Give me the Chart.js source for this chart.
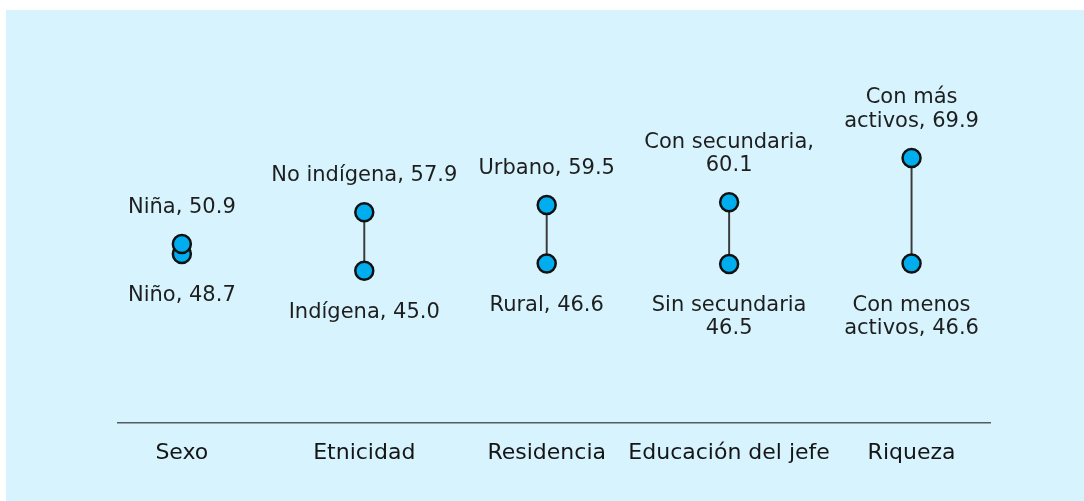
<!DOCTYPE html>
<html>
<head>
<meta charset="utf-8">
<script src="https://cdn.jsdelivr.net/npm/chart.js@4"></script>
<style>
  html, body { margin: 0; padding: 0; background: #ffffff; }
  #panel { position: absolute; left: 6px; top: 10px; width: 1078px; height: 491px; background: #d7f4fe; }
</style>
</head>
<body>
<div id="panel"><canvas id="brechaChart"></canvas></div>
<script>
// Datos del gráfico
const categorias = ['Sexo', 'Etnicidad', 'Residencia', 'Educación del jefe', 'Riqueza'];
const valoresAltos = [50.9, 57.9, 59.5, 60.1, 69.9];
const valoresBajos = [48.7, 45.0, 46.6, 46.5, 46.6];
const etiquetasAltas = ['Niña, {v}', 'No indígena, {v}', 'Urbano, {v}', 'Con secundaria,\n{v}', 'Con más\nactivos, {v}'];
const etiquetasBajas = ['Niño, {v}', 'Indígena, {v}', 'Rural, {v}', 'Sin secundaria\n{v}', 'Con menos\nactivos, {v}'];

const fuente = '"DejaVu Sans", sans-serif';

// Plugin para escribir las etiquetas de cada punto
const etiquetasPlugin = {
    id: 'etiquetas',
    afterDatasetsDraw(chart) {
        const ctx = chart.ctx;
        ctx.save();
        ctx.font = '21px ' + fuente;
        ctx.fillStyle = '#1e1e1e';
        ctx.textAlign = 'center';
        ctx.textBaseline = 'alphabetic';
        const alto = 23.5;

        chart.getDatasetMeta(2).data.forEach(function (p, i) {
            const lineas = etiquetasAltas[i].replace('{v}', valoresAltos[i].toFixed(1)).split('\n');
            lineas.forEach(function (t, j) {
                ctx.fillText(t, p.x, p.y - 31 - (lineas.length - 1 - j) * alto);
            });
        });
        chart.getDatasetMeta(1).data.forEach(function (p, i) {
            const lineas = etiquetasBajas[i].replace('{v}', valoresBajos[i].toFixed(1)).split('\n');
            lineas.forEach(function (t, j) {
                ctx.fillText(t, p.x, p.y + 47 + j * alto);
            });
        });
        ctx.restore();
    }
};

function createChart() {
    const ctx = document.getElementById('brechaChart').getContext('2d');
    const puntos = {
        backgroundColor: '#00aeef',
        borderColor: '#111111',
        borderWidth: 2.5,
        pointRadius: 9,
        pointHoverRadius: 9,
        showLine: false
    };

    new Chart(ctx, {
        type: 'bar',
        data: {
            datasets: [{
                type: 'bar',
                label: 'Brecha',
                data: categorias.map((c, i) => ({ x: i, y: [valoresBajos[i], valoresAltos[i]] })),
                backgroundColor: '#3a3a3a',
                barThickness: 1.3,
                order: 3
            }, Object.assign({
                type: 'scatter',
                label: 'Bajo',
                data: categorias.map((c, i) => ({ x: i, y: valoresBajos[i] })),
                order: 2
            }, puntos), Object.assign({
                type: 'scatter',
                label: 'Alto',
                data: categorias.map((c, i) => ({ x: i, y: valoresAltos[i] })),
                order: 1
            }, puntos)]
        },
        options: {
            responsive: true,
            maintainAspectRatio: false,
            animation: false,
            layout: { padding: { left: 112, right: 94, top: 10, bottom: 18 } },
            plugins: { legend: { display: false }, tooltip: { enabled: false } },
            scales: {
                x: {
                    type: 'linear',
                    offset: false,
                    min: -0.35,
                    max: 4.43,
                    grid: { display: false, drawTicks: false, offset: false },
                    border: { display: true, color: '#555b60', width: 1.5 },
                    afterBuildTicks: function (scale) {
                        scale.ticks = categorias.map((c, i) => ({ value: i }));
                    },
                    ticks: {
                        padding: 17,
                        color: '#151515',
                        font: { family: fuente, size: 22 },
                        maxRotation: 0,
                        autoSkip: false,
                        callback: function (value) {
                            return categorias[value];
                        }
                    }
                },
                y: {
                    display: false,
                    min: 11.5,
                    max: 100
                }
            }
        },
        plugins: [etiquetasPlugin]
    });
}

document.addEventListener('DOMContentLoaded', function () {
    createChart();
});
</script>
</body>
</html>
